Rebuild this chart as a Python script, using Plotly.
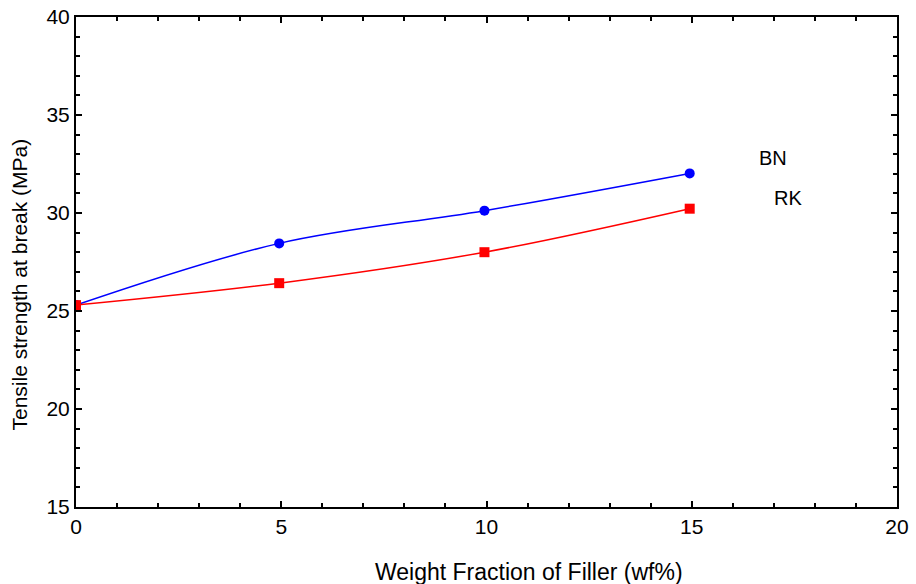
import plotly.graph_objects as go

x_bn = [0, 4.95, 9.95, 14.95]
y_bn = [25.3, 28.45, 30.12, 32.02]
x_rk = [0, 4.95, 9.95, 14.95]
y_rk = [25.3, 26.42, 28.0, 30.22]

fig = go.Figure()
fig.add_trace(go.Scatter(x=x_bn, y=y_bn, mode="lines+markers", name="BN",
                         line=dict(color="#0000ff", width=1.5, shape="spline"),
                         marker=dict(symbol="circle", size=10, color="#0000ff")))
fig.add_trace(go.Scatter(x=x_rk, y=y_rk, mode="lines+markers", name="RK",
                         line=dict(color="#ff0000", width=1.5, shape="spline"),
                         marker=dict(symbol="square", size=10, color="#ff0000")))

fam = "Liberation Sans, Arial, sans-serif"
font = dict(family=fam, size=21, color="black")
axis_common = dict(showgrid=False, zeroline=False, showline=True, linecolor="black",
                   linewidth=2, mirror="ticks", ticks="inside", ticklen=6, tickwidth=2,
                   tickcolor="black", tickfont=font, automargin=False)
fig.update_xaxes(range=[0, 20], tick0=0, dtick=5,
                 minor=dict(ticks="inside", ticklen=4, tickwidth=1.5, tickcolor="black", dtick=1),
                 **axis_common)
fig.update_yaxes(range=[15, 40], tick0=15, dtick=5,
                 minor=dict(ticks="inside", ticklen=4, tickwidth=1.5, tickcolor="black", dtick=1),
                 **axis_common)

fig.add_annotation(x=16.98, y=32.8, text="BN", showarrow=False, font=dict(family=fam, size=20, color="black"))
fig.add_annotation(x=17.35, y=30.77, text="RK", showarrow=False, font=dict(family=fam, size=20, color="black"))
fig.add_annotation(xref="paper", yref="paper", x=0.552, y=-0.1327, yanchor="middle",
                   text="Weight Fraction of Filler (wf%)", showarrow=False,
                   font=dict(family=fam, size=23, color="black"))
fig.add_annotation(xref="paper", yref="paper", x=-0.0682, y=0.454, xanchor="center",
                   text="Tensile strength at break (MPa)", showarrow=False, textangle=-90,
                   font=dict(family=fam, size=21, color="black"))

fig.update_layout(width=916, height=584, margin=dict(l=76, r=19, t=17, b=77),
                  plot_bgcolor="white", paper_bgcolor="white", showlegend=False,
                  font=font)
fig.write_html("out.html", config={"displayModeBar": False},
               post_script="document.body.style.margin='0';")
